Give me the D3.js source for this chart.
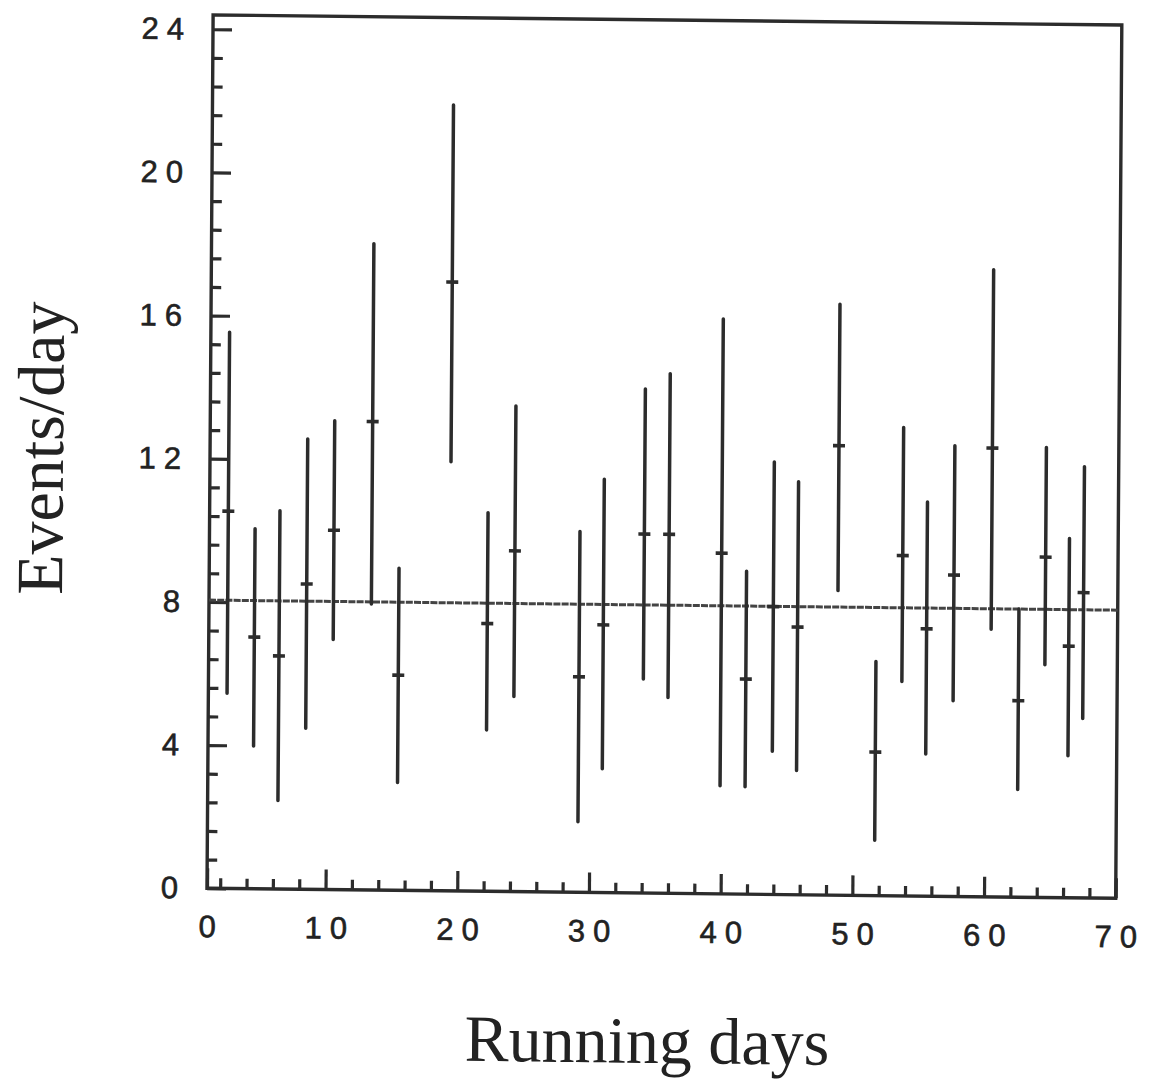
<!DOCTYPE html>
<html>
<head>
<meta charset="utf-8">
<script src="https://cdn.jsdelivr.net/npm/d3@7"></script>
<style>
  html, body { margin: 0; padding: 0; background: #fff; }
  svg { display: block; }
  .tick text { font-family: "Liberation Sans", Arial, sans-serif; font-size: 31px; fill: #222; stroke: #222; stroke-width: 0.6px; letter-spacing: 8px; }
  .title { font-family: "Liberation Serif", "Times New Roman", serif; font-size: 66px; fill: #222; }
</style>
</head>
<body>
<svg id="chart" width="1151" height="1084"></svg>
<script>
// ---- data ----
const days  = [2.42, 4.46, 6.34, 8.41, 10.45, 13.33, 15.41, 19.3, 22.14, 24.2, 29.13, 30.95, 34.02, 35.9,
               39.9, 41.8, 43.85, 45.7, 48.75, 51.67, 53.65, 55.5, 57.55, 60.4, 62.5, 64.5, 66.3, 67.4];
const means = [10.54, 7.03, 6.51, 8.53, 10.04, 13.09, 6.01, 17.01, 7.48, 9.52, 6.02, 7.48, 10.03, 10.03,
               9.52, 6.01, 8.04, 7.48, 12.56, 4.01, 9.51, 7.47, 8.98, 12.54, 5.49, 9.51, 7.03, 8.53];
const highs = [15.54, 10.06, 10.57, 12.58, 13.10, 18.06, 9.0, 21.96, 10.58, 13.57, 10.08, 11.55, 14.08, 14.52,
               16.06, 9.02, 12.08, 11.54, 16.51, 6.54, 13.09, 11.01, 12.59, 17.52, 8.05, 12.57, 10.04, 12.05];
const lows  = [5.45, 3.99, 2.47, 4.50, 6.99, 7.99, 3.01, 11.99, 4.51, 5.45, 1.97, 3.46, 5.98, 5.47,
               3.02, 3.0, 4.0, 3.47, 8.51, 1.55, 5.99, 3.97, 5.47, 7.48, 3.01, 6.5, 3.97, 5.01];
const fitLevel = 8.05;
const xLabelValues = [1, 10, 20, 30, 40, 50, 60, 70];
const xLabelTexts  = ["0", "10", "20", "30", "40", "50", "60", "70"];
const xMinorTicks  = d3.range(2, 70, 2).filter(v => v % 10 !== 0);
const yMajorTicks  = [0, 4, 8, 12, 16, 20, 24];
const yMinorTicks  = d3.range(0.8, 24.4, 0.8).filter(v => Math.abs(v / 4 - Math.round(v / 4)) > 0.01);
const xTitle = "Running days";
const yTitle = "Events/day";

// ---- layout ----
const left = 207, right = 1115.7, bottom = 888.2;
const x = d3.scaleLinear().domain([1, 70]).range([left, right]);
const y = d3.scaleLinear().domain([0, 24.4]).range([bottom, bottom - 24.4 * 35.79]);
const ink = "#2c2c2c";

const svg = d3.select("#chart");
// slight skew of the scanned page
const g = svg.append("g")
  .attr("transform", `translate(${left},${bottom}) matrix(1,0.0111,-0.007,1,0,0) translate(${-left},${-bottom})`);

// frame
g.append("rect")
  .attr("x", x(1)).attr("y", y(24.4))
  .attr("width", x(70) - x(1)).attr("height", y(0) - y(24.4))
  .attr("fill", "none").attr("stroke", ink).attr("stroke-width", 3.4);

function styleAxis(sel) {
  sel.select(".domain").remove();
  sel.selectAll(".tick line").attr("stroke", ink).attr("stroke-width", 3.2);
}

// x axis: minor + major
g.append("g").attr("transform", `translate(0,${bottom})`)
  .call(d3.axisBottom(x).tickValues(xMinorTicks).tickSize(-10).tickFormat(""))
  .call(styleAxis);
g.append("g").attr("transform", `translate(0,${bottom})`)
  .call(d3.axisBottom(x).tickValues(xLabelValues).tickSize(-20).tickPadding(27)
        .tickFormat((d, i) => xLabelTexts[i]))
  .call(styleAxis)
  .call(s => s.selectAll(".tick text").attr("dx", "4px"));

// y axis: minor + major
g.append("g").attr("transform", `translate(${left},0)`)
  .call(d3.axisLeft(y).tickValues(yMinorTicks).tickSize(-10).tickFormat(""))
  .call(styleAxis);
g.append("g").attr("transform", `translate(${left},0)`)
  .call(d3.axisLeft(y).tickValues(yMajorTicks).tickSize(-19).tickPadding(21).tickFormat(d3.format("d")))
  .call(styleAxis);

// fitted level
g.append("line")
  .attr("x1", x(1)).attr("x2", x(70))
  .attr("y1", y(fitLevel)).attr("y2", y(fitLevel))
  .attr("stroke", "#444").attr("stroke-width", 3)
  .attr("stroke-dasharray", "7,1.2");

// error bars
const pts = days.map((d, i) => ({ d, m: means[i], lo: lows[i], hi: highs[i] }));
g.append("g").selectAll("line").data(pts).join("line")
  .attr("x1", p => x(p.d)).attr("x2", p => x(p.d))
  .attr("y1", p => y(p.hi)).attr("y2", p => y(p.lo))
  .attr("stroke", ink).attr("stroke-width", 3.5).attr("stroke-linecap", "round");
g.append("g").selectAll("line").data(pts).join("line")
  .attr("x1", p => x(p.d) - 6).attr("x2", p => x(p.d) + 6)
  .attr("y1", p => y(p.m)).attr("y2", p => y(p.m))
  .attr("stroke", ink).attr("stroke-width", 3.6);

// titles
g.append("text").attr("class", "title")
  .attr("x", 648).attr("y", 1058).attr("text-anchor", "middle")
  .text(xTitle);
g.append("text").attr("class", "title")
  .attr("transform", "translate(60,450) rotate(-90)")
  .attr("text-anchor", "middle")
  .text(yTitle);
</script>
</body>
</html>
